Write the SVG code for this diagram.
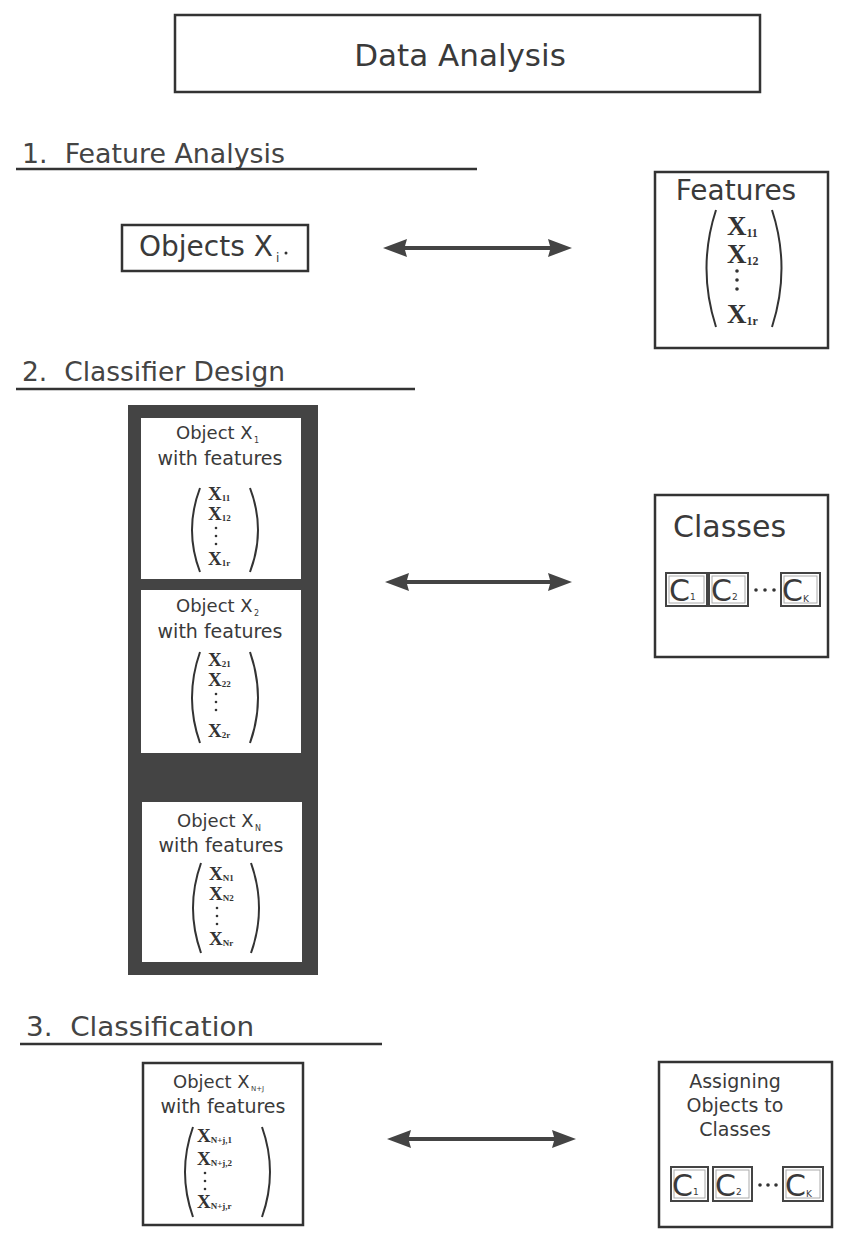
<svg xmlns="http://www.w3.org/2000/svg" width="856" height="1244" viewBox="0 0 856 1244">
<style>
.box{fill:#fff;stroke:#333;stroke-width:2.5}
.hd{font-family:"DejaVu Sans",sans-serif;fill:#444;font-size:27px}
.ul{stroke:#333;stroke-width:2.5}
.t{font-family:"DejaVu Sans",sans-serif;fill:#3a3a3a}
.x{font-family:"Liberation Serif",serif;font-weight:bold;fill:#333}
.par{fill:none;stroke:#333;stroke-width:2}
.dot{fill:#333}
.cb{fill:#fff;stroke:#444;stroke-width:2}
.cbi{fill:none;stroke:#aaa;stroke-width:1}
.arr{fill:#444}
</style>

<g id="title">
<rect class="box" x="175" y="15" width="585" height="77"/>
<text class="t" x="460" y="66" font-size="31" text-anchor="middle">Data Analysis</text>
</g>

<g id="headings">
<text class="hd" x="22" y="163" textLength="263" lengthAdjust="spacingAndGlyphs">1.&#160; Feature Analysis</text>
<line class="ul" x1="16" y1="169" x2="477" y2="169"/>
<text class="hd" x="22" y="381" textLength="263" lengthAdjust="spacingAndGlyphs">2.&#160; Classifier Design</text>
<line class="ul" x1="16" y1="389" x2="415" y2="389"/>
<text class="hd" x="26" y="1036" textLength="228" lengthAdjust="spacingAndGlyphs">3.&#160; Classification</text>
<line class="ul" x1="20" y1="1044" x2="382" y2="1044"/>
</g>

<g id="objects">
<rect class="box" x="122" y="225" width="186" height="46"/>
<text class="t" x="139" y="256" font-size="28">Objects X</text>
<text class="t" x="276" y="262" font-size="12" fill="#333">i</text>
<circle class="dot" cx="286" cy="253" r="1.5"/>
</g>

<g id="features">
<rect class="box" x="655" y="172" width="173" height="176"/>
<text class="t" x="736" y="200" font-size="28" text-anchor="middle">Features</text>
<path class="par" d="M716,210 Q697,268 716,327"/>
<path class="par" d="M772,210 Q791,268 772,327"/>
<text class="x" x="727" y="235" font-size="27">X<tspan font-size="12" dy="2">11</tspan></text>
<text class="x" x="727" y="263" font-size="27">X<tspan font-size="12" dy="2">12</tspan></text>
<circle class="dot" cx="737" cy="271" r="1.8"/>
<circle class="dot" cx="737" cy="280" r="1.8"/>
<circle class="dot" cx="737" cy="289" r="1.8"/>
<text class="x" x="727" y="323" font-size="27">X<tspan font-size="12" dy="2">1r</tspan></text>
</g>

<g id="training">
<rect x="128" y="405" width="190" height="570" fill="#444"/>
<g id="object1">
<rect x="141" y="418" width="160" height="161" fill="#fff"/>
<text class="t" x="176" y="439" font-size="18">Object X</text>
<text class="t" x="254" y="443" font-size="8">1</text>
<text class="t" x="220" y="465" font-size="19" text-anchor="middle">with features</text>
<path class="par" d="M200,488 Q184,530 200,572"/>
<path class="par" d="M250,488 Q266,530 250,572"/>
<text class="x" x="208" y="500" font-size="19">X<tspan font-size="9" dy="1">11</tspan></text>
<text class="x" x="208" y="520" font-size="19">X<tspan font-size="9" dy="1">12</tspan></text>
<circle class="dot" cx="216" cy="528" r="1.3"/>
<circle class="dot" cx="216" cy="536" r="1.3"/>
<circle class="dot" cx="216" cy="544" r="1.3"/>
<text class="x" x="208" y="565" font-size="19">X<tspan font-size="9" dy="1">1r</tspan></text>
</g>
<g id="object2">
<rect x="141" y="590" width="160" height="163" fill="#fff"/>
<text class="t" x="176" y="612" font-size="18">Object X</text>
<text class="t" x="254" y="616" font-size="8">2</text>
<text class="t" x="220" y="638" font-size="19" text-anchor="middle">with features</text>
<path class="par" d="M200,652 Q184,698 200,743"/>
<path class="par" d="M250,652 Q266,698 250,743"/>
<text class="x" x="208" y="666" font-size="19">X<tspan font-size="9" dy="1">21</tspan></text>
<text class="x" x="208" y="686" font-size="19">X<tspan font-size="9" dy="1">22</tspan></text>
<circle class="dot" cx="216" cy="694" r="1.3"/>
<circle class="dot" cx="216" cy="702" r="1.3"/>
<circle class="dot" cx="216" cy="710" r="1.3"/>
<text class="x" x="208" y="737" font-size="19">X<tspan font-size="9" dy="1">2r</tspan></text>
</g>
<g id="objectN">
<rect x="142" y="802" width="160" height="160" fill="#fff"/>
<text class="t" x="177" y="827" font-size="18">Object X</text>
<text class="t" x="255" y="831" font-size="8">N</text>
<text class="t" x="221" y="852" font-size="19" text-anchor="middle">with features</text>
<path class="par" d="M201,863 Q185,908 201,953"/>
<path class="par" d="M251,863 Q267,908 251,953"/>
<text class="x" x="209" y="880" font-size="19">X<tspan font-size="9" dy="1">N1</tspan></text>
<text class="x" x="209" y="900" font-size="19">X<tspan font-size="9" dy="1">N2</tspan></text>
<circle class="dot" cx="217" cy="908" r="1.3"/>
<circle class="dot" cx="217" cy="916" r="1.3"/>
<circle class="dot" cx="217" cy="924" r="1.3"/>
<text class="x" x="209" y="945" font-size="19">X<tspan font-size="9" dy="1">Nr</tspan></text>
</g>
</g>

<g id="classes">
<rect class="box" x="655" y="495" width="173" height="162"/>
<text class="t" x="673" y="537" font-size="30">Classes</text>
<rect class="cb" x="666" y="573" width="41" height="33"/>
<rect class="cbi" x="669" y="576" width="35" height="27"/>
<text class="t" x="669" y="601" font-size="30">C</text><text class="t" x="690" y="600" font-size="9">1</text>
<rect class="cb" x="709" y="573" width="39" height="33"/>
<rect class="cbi" x="712" y="576" width="33" height="27"/>
<text class="t" x="711" y="601" font-size="30">C</text><text class="t" x="732" y="600" font-size="9">2</text>
<circle class="dot" cx="756" cy="590" r="1.8"/>
<circle class="dot" cx="765" cy="590" r="1.8"/>
<circle class="dot" cx="774" cy="590" r="1.8"/>
<rect class="cb" x="781" y="573" width="39" height="33"/>
<rect class="cbi" x="784" y="576" width="33" height="27"/>
<text class="t" x="782" y="601" font-size="30">C</text><text class="t" x="803" y="602" font-size="9">K</text>
</g>

<g id="newobject">
<rect class="box" x="143" y="1063" width="160" height="162"/>
<text class="t" x="173" y="1088" font-size="18">Object X</text>
<text class="t" x="251" y="1091" font-size="7">N+J</text>
<text class="t" x="223" y="1113" font-size="19" text-anchor="middle">with features</text>
<path class="par" d="M193,1127 Q177,1172 193,1217"/>
<path class="par" d="M262,1127 Q278,1172 262,1217"/>
<text class="x" x="197" y="1142" font-size="19">X<tspan font-size="9" dy="1">N+j,1</tspan></text>
<text class="x" x="197" y="1165" font-size="19">X<tspan font-size="9" dy="1">N+j,2</tspan></text>
<circle class="dot" cx="205" cy="1173" r="1.3"/>
<circle class="dot" cx="205" cy="1181" r="1.3"/>
<circle class="dot" cx="205" cy="1189" r="1.3"/>
<text class="x" x="197" y="1208" font-size="19">X<tspan font-size="9" dy="1">N+j,r</tspan></text>
</g>

<g id="assigning">
<rect class="box" x="659" y="1062" width="173" height="165"/>
<text class="t" x="735" y="1088" font-size="19" text-anchor="middle">Assigning</text>
<text class="t" x="735" y="1112" font-size="19" text-anchor="middle">Objects to</text>
<text class="t" x="735" y="1136" font-size="19" text-anchor="middle">Classes</text>
<rect class="cb" x="671" y="1167" width="37" height="34"/>
<rect class="cbi" x="674" y="1170" width="31" height="28"/>
<text class="t" x="672" y="1196" font-size="30">C</text><text class="t" x="693" y="1195" font-size="9">1</text>
<rect class="cb" x="713" y="1167" width="39" height="34"/>
<rect class="cbi" x="716" y="1170" width="33" height="28"/>
<text class="t" x="715" y="1196" font-size="30">C</text><text class="t" x="736" y="1195" font-size="9">2</text>
<circle class="dot" cx="760" cy="1185" r="1.8"/>
<circle class="dot" cx="768" cy="1185" r="1.8"/>
<circle class="dot" cx="776" cy="1185" r="1.8"/>
<rect class="cb" x="783" y="1167" width="40" height="34"/>
<rect class="cbi" x="786" y="1170" width="34" height="28"/>
<text class="t" x="785" y="1196" font-size="30">C</text><text class="t" x="806" y="1197" font-size="9">K</text>
</g>

<g id="connectors">
<polygon class="arr" points="383,248 407,239 405,246 550,246 548,239 572,248 548,257 550,250 405,250 407,257"/>
<polygon class="arr" points="385,582 409,573 407,580 550,580 548,573 572,582 548,591 550,584 407,584 409,591"/>
<polygon class="arr" points="387,1139 411,1130 409,1137 554,1137 552,1130 576,1139 552,1148 554,1141 409,1141 411,1148"/>
</g>
</svg>
